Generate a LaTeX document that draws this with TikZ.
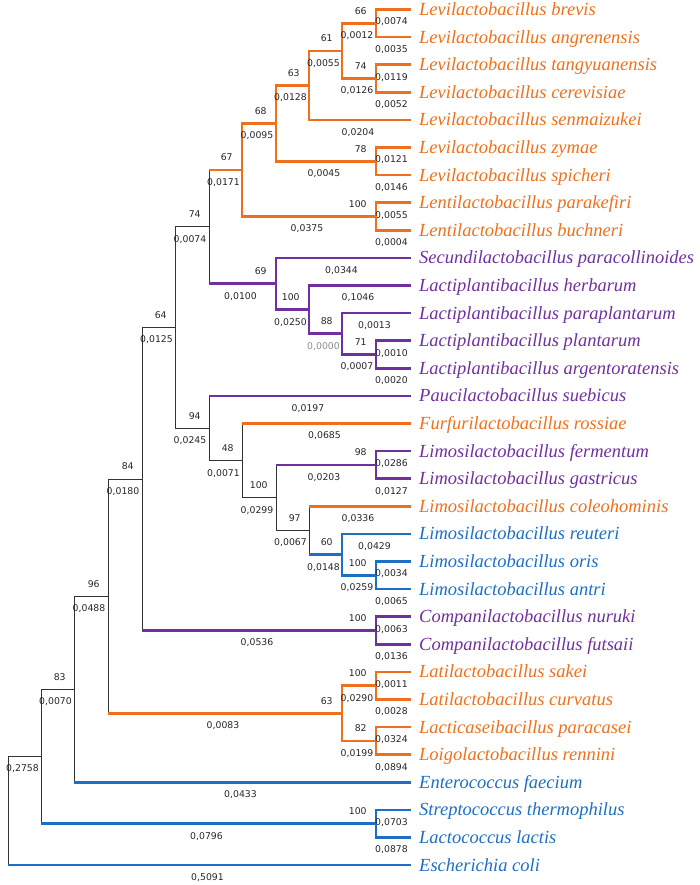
\documentclass[tikz,border=0pt]{standalone}
\usepackage{fontspec}
\setmainfont{Liberation Serif}
\newfontfamily\numfont{DejaVu Sans}
\definecolor{lacorange}{RGB}{238,112,28}
\definecolor{lacpurple}{RGB}{112,48,160}
\definecolor{lacblue}{RGB}{30,110,196}

\begin{document}
\begin{tikzpicture}[x=1pt, y=-1pt,
  species/.style={anchor=west, inner xsep=8pt, inner ysep=0pt, text height=12pt, text depth=0pt, font=\fontsize{18.5}{18.5}\selectfont\itshape},
  stem/.style={draw=black!80, line width=0.8pt},
  orangebranch/.style={draw=lacorange, line width=2.7pt},
  purplebranch/.style={draw=lacpurple, line width=2.7pt},
  bluebranch/.style={draw=lacblue, line width=2.7pt},
  boot/.style={pos=1, anchor=east, inner sep=0pt, text height=6.8pt, text depth=0pt, xshift=-8pt, yshift=12.5pt, text=black!85, font=\fontsize{9.3}{9.3}\selectfont\numfont},
  blen/.style={inner sep=0pt, text height=6.8pt, text depth=0pt, xshift=-2pt, yshift=-12pt, text=black!85, font=\fontsize{9.3}{9.3}\selectfont\numfont}]
  \useasboundingbox (0,0) rectangle (699,885);

  % Species
  \foreach \leaf/\species/\clr [count=\i from 0] in {
    brevis/Levilactobacillus brevis/lacorange,
    angrenensis/Levilactobacillus angrenensis/lacorange,
    tangyuanensis/Levilactobacillus tangyuanensis/lacorange,
    cerevisiae/Levilactobacillus cerevisiae/lacorange,
    senmaizukei/Levilactobacillus senmaizukei/lacorange,
    zymae/Levilactobacillus zymae/lacorange,
    spicheri/Levilactobacillus spicheri/lacorange,
    parakefiri/Lentilactobacillus parakefiri/lacorange,
    buchneri/Lentilactobacillus buchneri/lacorange,
    paracollinoides/Secundilactobacillus paracollinoides/lacpurple,
    herbarum/Lactiplantibacillus herbarum/lacpurple,
    paraplantarum/Lactiplantibacillus paraplantarum/lacpurple,
    plantarum/Lactiplantibacillus plantarum/lacpurple,
    argentoratensis/Lactiplantibacillus argentoratensis/lacpurple,
    suebicus/Paucilactobacillus suebicus/lacpurple,
    rossiae/Furfurilactobacillus rossiae/lacorange,
    fermentum/Limosilactobacillus fermentum/lacpurple,
    gastricus/Limosilactobacillus gastricus/lacpurple,
    coleohominis/Limosilactobacillus coleohominis/lacorange,
    reuteri/Limosilactobacillus reuteri/lacblue,
    oris/Limosilactobacillus oris/lacblue,
    antri/Limosilactobacillus antri/lacblue,
    nuruki/Companilactobacillus nuruki/lacpurple,
    futsaii/Companilactobacillus futsaii/lacpurple,
    sakei/Latilactobacillus sakei/lacorange,
    curvatus/Latilactobacillus curvatus/lacorange,
    paracasei/Lacticaseibacillus paracasei/lacorange,
    rennini/Loigolactobacillus rennini/lacorange,
    faecium/Enterococcus faecium/lacblue,
    thermophilus/Streptococcus thermophilus/lacblue,
    lactis/Lactococcus lactis/lacblue,
    ecoli/Escherichia coli/lacblue}
    \node[species, text=\clr] (\leaf) at (411, 9.5+27.6*\i) {\species};

  % Internal nodes
  \coordinate (p01) at (376,23.3);
  \coordinate (p23) at (376,78.5);
  \coordinate (n61) at (342,50.9);
  \coordinate (n63) at (309,85.4);
  \coordinate (p56) at (376,161.3);
  \coordinate (n68) at (276,123.35);
  \coordinate (p78) at (376,216.5);
  \coordinate (n67) at (242,169.9);
  \coordinate (p1213) at (376,354.5);
  \coordinate (n88) at (342,333.8);
  \coordinate (n100a) at (309,309.65);
  \coordinate (n69) at (276,283.8);
  \coordinate (n74) at (209,226.85);
  \coordinate (p1617) at (376,464.9);
  \coordinate (p2021) at (376,575.3);
  \coordinate (n60) at (342,554.6);
  \coordinate (n97) at (309,530.45);
  \coordinate (n100b) at (276,497.7);
  \coordinate (n48) at (242,460.6);
  \coordinate (n94) at (209,428.25);
  \coordinate (n64) at (175,327.55);
  \coordinate (p2223) at (376,630.5);
  \coordinate (n84) at (142,479);
  \coordinate (p2425) at (376,685.7);
  \coordinate (p2627) at (376,740.9);
  \coordinate (n63b) at (342,713.3);
  \coordinate (n96) at (108,596.15);
  \coordinate (n83) at (74,689.2);
  \coordinate (p2930) at (376,823.7);
  \coordinate (nA) at (41,756.45);
  \coordinate (root) at (8,810.8);

  % Levilactobacillus / Lentilactobacillus
  \draw[orangebranch] (p01) |- (brevis.west) node[blen, pos=.75] {0,0074};
  \draw[orangebranch] (p01) |- (angrenensis.west) node[blen, pos=.75] {0,0035};
  \draw[orangebranch] (p23) |- (tangyuanensis.west) node[blen, pos=.75] {0,0119};
  \draw[orangebranch] (p23) |- (cerevisiae.west) node[blen, pos=.75] {0,0052};
  \draw[orangebranch] (n61) |- (p01) node[boot] {66} node[blen, pos=.75] {0,0012};
  \draw[orangebranch] (n61) |- (p23) node[boot] {74} node[blen, pos=.75] {0,0126};
  \draw[orangebranch] (n63) |- (n61) node[boot] {61} node[blen, pos=.75] {0,0055};
  \draw[orangebranch] (n63) |- (senmaizukei.west) node[blen, pos=.75] {0,0204};
  \draw[orangebranch] (p56) |- (zymae.west) node[blen, pos=.75] {0,0121};
  \draw[orangebranch] (p56) |- (spicheri.west) node[blen, pos=.75] {0,0146};
  \draw[orangebranch] (n68) |- (n63) node[boot] {63} node[blen, pos=.75] {0,0128};
  \draw[orangebranch] (n68) |- (p56) node[boot] {78} node[blen, pos=.75] {0,0045};
  \draw[orangebranch] (p78) |- (parakefiri.west) node[blen, pos=.75] {0,0055};
  \draw[orangebranch] (p78) |- (buchneri.west) node[blen, pos=.75] {0,0004};
  \draw[orangebranch] (n67) |- (n68) node[boot] {68} node[blen, pos=.75] {0,0095};
  \draw[orangebranch] (n67) |- (p78) node[boot] {100} node[blen, pos=.75] {0,0375};
  \draw[stem] (n74) -- (n74 |- n67);
  \draw[orangebranch] (n74 |- n67) -- (n67) node[boot] {67} node[blen, midway] {0,0171};

  % Secundilactobacillus / Lactiplantibacillus
  \draw[purplebranch] (p1213) |- (plantarum.west) node[blen, pos=.75] {0,0010};
  \draw[purplebranch] (p1213) |- (argentoratensis.west) node[blen, pos=.75] {0,0020};
  \draw[purplebranch] (n88) |- (paraplantarum.west) node[blen, pos=.75] {0,0013};
  \draw[purplebranch] (n88) |- (p1213) node[boot] {71} node[blen, pos=.75] {0,0007};
  \draw[purplebranch] (n100a) |- (herbarum.west) node[blen, pos=.75] {0,1046};
  \draw[purplebranch] (n100a) |- (n88) node[boot] {88} node[blen, pos=.75, text=black!45] {0,0000};
  \draw[purplebranch] (n69) |- (paracollinoides.west) node[blen, pos=.75] {0,0344};
  \draw[purplebranch] (n69) |- (n100a) node[boot] {100} node[blen, pos=.75] {0,0250};
  \draw[stem] (n74) -- (n74 |- n69);
  \draw[purplebranch] (n74 |- n69) -- (n69) node[boot] {69} node[blen, midway] {0,0100};

  % Paucilactobacillus ... Limosilactobacillus
  \draw[stem] (n64) |- (n74) node[boot] {74} node[blen, pos=.75] {0,0074};
  \draw[stem] (n64) |- (n94) node[boot] {94} node[blen, pos=.75] {0,0245};
  \draw[stem] (n94) -- (n94 |- suebicus.west);
  \draw[purplebranch] (n94 |- suebicus.west) -- (suebicus.west) node[blen, midway] {0,0197};
  \draw[stem] (n94) |- (n48) node[boot] {48} node[blen, pos=.75] {0,0071};
  \draw[stem] (n48) -- (n48 |- rossiae.west);
  \draw[orangebranch] (n48 |- rossiae.west) -- (rossiae.west) node[blen, midway] {0,0685};
  \draw[stem] (n48) |- (n100b) node[boot] {100} node[blen, pos=.75] {0,0299};
  \draw[stem] (n100b) -- (n100b |- p1617);
  \draw[purplebranch] (n100b |- p1617) -- (p1617) node[boot] {98} node[blen, midway] {0,0203};
  \draw[purplebranch] (p1617) |- (fermentum.west) node[blen, pos=.75] {0,0286};
  \draw[purplebranch] (p1617) |- (gastricus.west) node[blen, pos=.75] {0,0127};
  \draw[stem] (n100b) |- (n97) node[boot] {97} node[blen, pos=.75] {0,0067};
  \draw[stem] (n97) -- (n97 |- coleohominis.west);
  \draw[orangebranch] (n97 |- coleohominis.west) -- (coleohominis.west) node[blen, midway] {0,0336};
  \draw[stem] (n97) -- (n97 |- n60);
  \draw[bluebranch] (n97 |- n60) -- (n60) node[boot] {60} node[blen, midway] {0,0148};
  \draw[bluebranch] (n60) |- (reuteri.west) node[blen, pos=.75] {0,0429};
  \draw[bluebranch] (n60) |- (p2021) node[boot] {100} node[blen, pos=.75] {0,0259};
  \draw[bluebranch] (p2021) |- (oris.west) node[blen, pos=.75] {0,0034};
  \draw[bluebranch] (p2021) |- (antri.west) node[blen, pos=.75] {0,0065};

  % Companilactobacillus
  \draw[stem] (n84) |- (n64) node[boot] {64} node[blen, pos=.75] {0,0125};
  \draw[stem] (n84) -- (n84 |- p2223);
  \draw[purplebranch] (n84 |- p2223) -- (p2223) node[boot] {100} node[blen, midway] {0,0536};
  \draw[purplebranch] (p2223) |- (nuruki.west) node[blen, pos=.75] {0,0063};
  \draw[purplebranch] (p2223) |- (futsaii.west) node[blen, pos=.75] {0,0136};

  % Latilactobacillus / Lacticaseibacillus / Loigolactobacillus
  \draw[stem] (n96) |- (n84) node[boot] {84} node[blen, pos=.75] {0,0180};
  \draw[stem] (n96) -- (n96 |- n63b);
  \draw[orangebranch] (n96 |- n63b) -- (n63b) node[boot] {63} node[blen, midway] {0,0083};
  \draw[orangebranch] (n63b) |- (p2425) node[boot] {100} node[blen, pos=.75] {0,0290};
  \draw[orangebranch] (n63b) |- (p2627) node[boot] {82} node[blen, pos=.75] {0,0199};
  \draw[orangebranch] (p2425) |- (sakei.west) node[blen, pos=.75] {0,0011};
  \draw[orangebranch] (p2425) |- (curvatus.west) node[blen, pos=.75] {0,0028};
  \draw[orangebranch] (p2627) |- (paracasei.west) node[blen, pos=.75] {0,0324};
  \draw[orangebranch] (p2627) |- (rennini.west) node[blen, pos=.75] {0,0894};

  % Outgroups
  \draw[stem] (n83) |- (n96) node[boot] {96} node[blen, pos=.75] {0,0488};
  \draw[stem] (n83) -- (n83 |- faecium.west);
  \draw[bluebranch] (n83 |- faecium.west) -- (faecium.west) node[blen, midway] {0,0433};
  \draw[stem] (nA) |- (n83) node[boot] {83} node[blen, pos=.75] {0,0070};
  \draw[stem] (nA) -- (nA |- p2930);
  \draw[bluebranch] (nA |- p2930) -- (p2930) node[boot] {100} node[blen, midway] {0,0796};
  \draw[bluebranch] (p2930) |- (thermophilus.west) node[blen, pos=.75] {0,0703};
  \draw[bluebranch] (p2930) |- (lactis.west) node[blen, pos=.75] {0,0878};
  \draw[stem] (root) |- (nA) node[blen, pos=.75] {0,2758};
  \draw[stem] (root) -- (root |- ecoli.west);
  \draw[bluebranch] (root |- ecoli.west) -- (ecoli.west) node[blen, midway] {0,5091};
\end{tikzpicture}
\end{document}
